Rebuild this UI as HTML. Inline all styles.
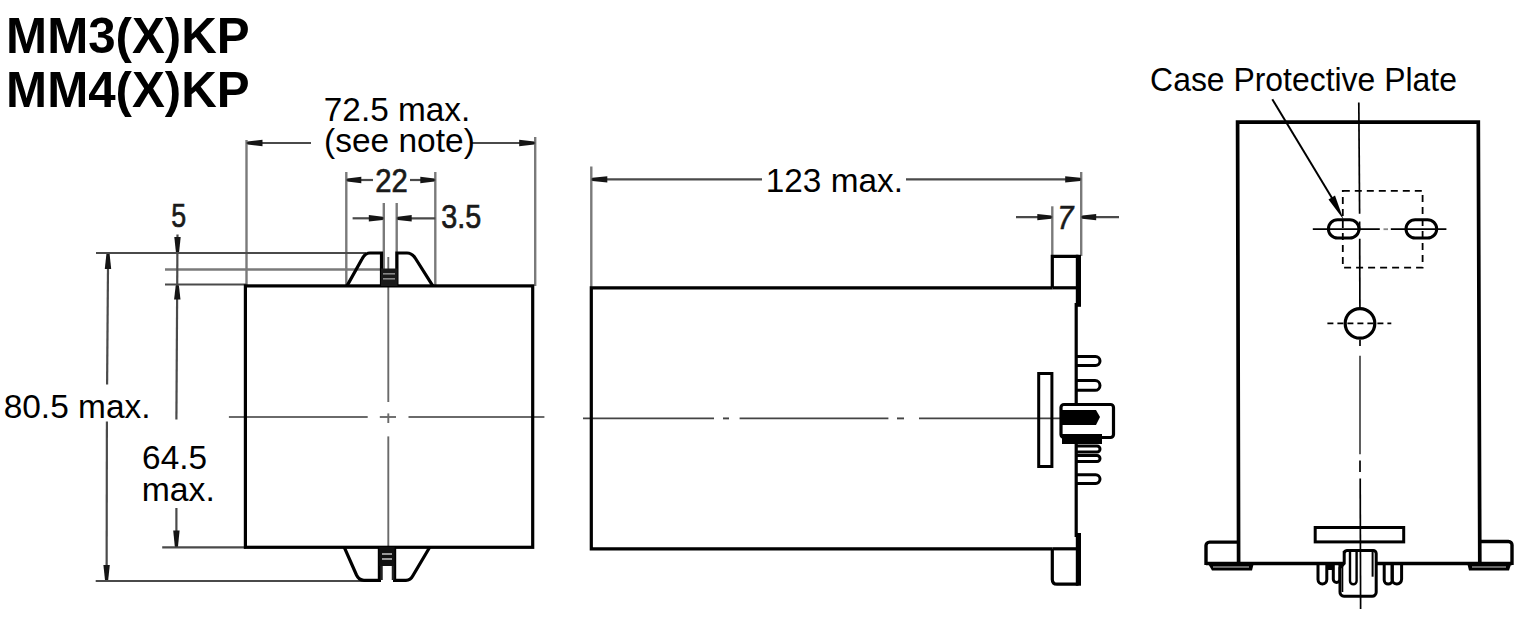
<!DOCTYPE html>
<html><head><meta charset="utf-8">
<style>
html,body{margin:0;padding:0;background:#fff;width:1525px;height:619px;overflow:hidden;}
svg{display:block;}
text{font-family:"Liberation Sans",sans-serif;}
</style></head><body>
<svg width="1525" height="619" viewBox="0 0 1525 619">
<g fill="none" stroke-linecap="butt">
<line x1="246.5" y1="140" x2="246.5" y2="286" stroke="#7a7a7a" stroke-width="2.4"/>
<line x1="535.2" y1="137" x2="535.2" y2="286" stroke="#7a7a7a" stroke-width="2.4"/>
<line x1="346.3" y1="172" x2="346.3" y2="286" stroke="#7a7a7a" stroke-width="2.4"/>
<line x1="435.3" y1="172" x2="435.3" y2="286" stroke="#7a7a7a" stroke-width="2.4"/>
<line x1="383.8" y1="203" x2="383.8" y2="286" stroke="#7a7a7a" stroke-width="2.4"/>
<line x1="396.7" y1="203" x2="396.7" y2="286" stroke="#7a7a7a" stroke-width="2.4"/>
<line x1="246.5" y1="143" x2="311" y2="143" stroke="#4a4a4a" stroke-width="2.2"/>
<line x1="472" y1="143" x2="535.2" y2="143" stroke="#4a4a4a" stroke-width="2.2"/>
<polygon points="247.5,141.4 262.5,139.8 262.5,146.2 247.5,144.6" fill="#151515"/>
<polygon points="534.2,141.4 519.2,139.8 519.2,146.2 534.2,144.6" fill="#151515"/>
<line x1="346.3" y1="180" x2="373" y2="180" stroke="#4a4a4a" stroke-width="2.2"/>
<line x1="410" y1="180" x2="435.3" y2="180" stroke="#4a4a4a" stroke-width="2.2"/>
<polygon points="347.3,178.4 361.3,176.8 361.3,183.2 347.3,181.6" fill="#151515"/>
<polygon points="434.3,178.4 420.3,176.8 420.3,183.2 434.3,181.6" fill="#151515"/>
<line x1="352.6" y1="218.3" x2="383.8" y2="218.3" stroke="#4a4a4a" stroke-width="2.2"/>
<line x1="396.7" y1="218.3" x2="435.3" y2="218.3" stroke="#4a4a4a" stroke-width="2.2"/>
<polygon points="382.8,216.70000000000002 368.8,215.10000000000002 368.8,221.5 382.8,219.9" fill="#151515"/>
<polygon points="397.7,216.70000000000002 411.7,215.10000000000002 411.7,221.5 397.7,219.9" fill="#151515"/>
<line x1="96" y1="253" x2="366" y2="253" stroke="#4a4a4a" stroke-width="2.2"/>
<line x1="165" y1="269.5" x2="382" y2="269.5" stroke="#7a7a7a" stroke-width="2.4"/>
<line x1="165" y1="284.5" x2="246.5" y2="284.5" stroke="#4a4a4a" stroke-width="2.2"/>
<line x1="95.7" y1="581" x2="380" y2="581" stroke="#4a4a4a" stroke-width="2.2"/>
<line x1="162.2" y1="547.3" x2="246" y2="547.3" stroke="#4a4a4a" stroke-width="2.2"/>
<line x1="108.1" y1="253" x2="107.1" y2="384.6" stroke="#4a4a4a" stroke-width="2.2"/>
<line x1="106.9" y1="421.6" x2="106.6" y2="581" stroke="#4a4a4a" stroke-width="2.2"/>
<polygon points="106.4,254 104.8,269 111.2,269 109.6,254" fill="#151515"/>
<polygon points="105.0,580 103.39999999999999,565 109.8,565 108.19999999999999,580" fill="#151515"/>
<line x1="177.5" y1="234.5" x2="176.4" y2="419.5" stroke="#4a4a4a" stroke-width="2.2"/>
<line x1="176.4" y1="508" x2="176.4" y2="547.3" stroke="#4a4a4a" stroke-width="2.2"/>
<polygon points="175.9,252 174.3,237 180.7,237 179.1,252" fill="#151515"/>
<polygon points="175.70000000000002,285.5 174.10000000000002,299.5 180.5,299.5 178.9,285.5" fill="#151515"/>
<polygon points="174.8,546.5 173.20000000000002,530.5 179.6,530.5 178.0,546.5" fill="#151515"/>
<line x1="388.3" y1="257" x2="388.3" y2="402" stroke="#6a6a6a" stroke-width="1.9"/>
<line x1="388.3" y1="413.4" x2="388.3" y2="423" stroke="#6a6a6a" stroke-width="1.9"/>
<line x1="388.3" y1="436.4" x2="388.3" y2="547" stroke="#6a6a6a" stroke-width="1.9"/>
<line x1="228.9" y1="417" x2="367.7" y2="417" stroke="#6a6a6a" stroke-width="1.9"/>
<line x1="379.8" y1="417" x2="396" y2="417" stroke="#6a6a6a" stroke-width="1.9"/>
<line x1="408.5" y1="417" x2="544.4" y2="417" stroke="#6a6a6a" stroke-width="1.9"/>
<rect x="245.4" y="285.9" width="287.3" height="261.4" stroke="#000" stroke-width="3.2"/>
<path d="M347,285.9 L362,259 Q365,253 370,253 L381.5,253 V285.9" stroke="#000" stroke-width="3.2"/>
<path d="M396.9,285.9 V253 L407,253 Q412,253 415.5,258.5 L432.8,285.9" stroke="#000" stroke-width="3.2"/>
<rect x="381" y="268.5" width="16.5" height="17.5" fill="#1a1a1a"/>
<rect x="383" y="273" width="12" height="1.6" fill="#888"/>
<rect x="383" y="278" width="12" height="1.6" fill="#888"/>
<path d="M344.3,547.3 L356.5,575 Q359,580.3 364,580.3 L379.4,580.3 V547.3" stroke="#000" stroke-width="3.2"/>
<path d="M394.6,547.3 V580.3 L406,580.3 Q410.5,580.3 413,575.5 L429.7,547.3" stroke="#000" stroke-width="3.2"/>
<rect x="379.4" y="547" width="15.2" height="19" fill="#111"/>
<rect x="382" y="553" width="10" height="2" fill="#999"/>
<rect x="382" y="558" width="10" height="2" fill="#999"/>
<line x1="381.5" y1="566" x2="381.5" y2="580" stroke="#222" stroke-width="2.5"/>
<line x1="393" y1="566" x2="393" y2="580" stroke="#222" stroke-width="2.5"/>
<line x1="591.3" y1="166.5" x2="591.3" y2="288" stroke="#7a7a7a" stroke-width="2.4"/>
<line x1="1081.2" y1="172" x2="1081.2" y2="256" stroke="#7a7a7a" stroke-width="2.4"/>
<line x1="591.3" y1="179.4" x2="762" y2="179.4" stroke="#4a4a4a" stroke-width="2.2"/>
<line x1="906" y1="179.4" x2="1081.2" y2="179.4" stroke="#4a4a4a" stroke-width="2.2"/>
<polygon points="592.3,177.8 607.3,176.20000000000002 607.3,182.6 592.3,181.0" fill="#151515"/>
<polygon points="1080.2,177.8 1065.2,176.20000000000002 1065.2,182.6 1080.2,181.0" fill="#151515"/>
<line x1="1052.3" y1="206.3" x2="1052.3" y2="256" stroke="#7a7a7a" stroke-width="2.4"/>
<line x1="1016" y1="217.1" x2="1052.3" y2="217.1" stroke="#4a4a4a" stroke-width="2.2"/>
<line x1="1081.2" y1="217.1" x2="1119" y2="217.1" stroke="#4a4a4a" stroke-width="2.2"/>
<polygon points="1051.3,215.5 1037.3,213.9 1037.3,220.29999999999998 1051.3,218.7" fill="#151515"/>
<polygon points="1082.2,215.5 1096.2,213.9 1096.2,220.29999999999998 1082.2,218.7" fill="#151515"/>
<line x1="583" y1="418.4" x2="714" y2="418.4" stroke="#444" stroke-width="1.9"/>
<line x1="723" y1="418.4" x2="729" y2="418.4" stroke="#444" stroke-width="1.9"/>
<line x1="739.6" y1="418.4" x2="888.4" y2="418.4" stroke="#444" stroke-width="1.9"/>
<line x1="897" y1="418.4" x2="904" y2="418.4" stroke="#444" stroke-width="1.9"/>
<line x1="919" y1="418.4" x2="1060" y2="418.4" stroke="#444" stroke-width="1.9"/>
<polyline points="1052.5,287.8 591.3,287.8 591.3,548.8 1052.5,548.8" stroke="#000" stroke-width="3.2"/>
<polyline points="1052.3,287.8 1052.3,256.3 1078.5,256.3" stroke="#000" stroke-width="3.2"/>
<path d="M1078.5,584.2 H1057 Q1052.3,584.2 1052.3,579.5 V548.8" stroke="#000" stroke-width="3.2"/>
<rect x="1075.8" y="254.8" width="5.2" height="52" fill="#000"/>
<rect x="1075.8" y="533" width="5.2" height="52.7" fill="#000"/>
<polyline points="1052.5,287.8 1078,287.8" stroke="#000" stroke-width="3.2"/>
<polyline points="1052.5,548.8 1078,548.8" stroke="#000" stroke-width="3.2"/>
<line x1="1076.2" y1="303" x2="1076.2" y2="403.5" stroke="#000" stroke-width="3.2"/>
<line x1="1076.2" y1="438" x2="1076.2" y2="537" stroke="#000" stroke-width="3.2"/>
<rect x="1038.7" y="373.5" width="13.2" height="93" stroke="#000" stroke-width="3"/>
<rect x="1061" y="404.5" width="52.5" height="33" rx="3" stroke="#000" stroke-width="3.2"/>
<polygon points="1062,410 1096,410 1100,417 1096,425 1062,425" fill="#000"/>
<rect x="1062" y="434" width="40" height="10" fill="#000"/>
<path d="M1076,356.5 H1095.5 a4.5,4.5 0 0 1 0,9 H1076" stroke="#000" stroke-width="3"/>
<path d="M1076,380.5 H1095.1 a4.9,4.9 0 0 1 0,9.8 H1076" stroke="#000" stroke-width="3"/>
<path d="M1076,446 H1097.0 a3.0,3.0 0 0 1 0,6 H1076" stroke="#000" stroke-width="3"/>
<path d="M1076,455.5 H1097.0 a3.0,3.0 0 0 1 0,6 H1076" stroke="#000" stroke-width="3"/>
<path d="M1076,474.8 H1095.7 a4.3,4.3 0 0 1 0,8.6 H1076" stroke="#000" stroke-width="3"/>
<polyline points="1238.6,563.5 1237.6,122.2 1478.3,122.2 1479.8,563.5" stroke="#000" stroke-width="3.7"/>
<line x1="1206" y1="563.5" x2="1512" y2="563.5" stroke="#000" stroke-width="3.4"/>
<path d="M1238.6,542.1 H1209.5 a3.5,3.5 0 0 0 -3.5,3.5 V565" stroke="#000" stroke-width="3.4"/>
<path d="M1479.8,541.5 H1508.5 a3.5,3.5 0 0 1 3.5,3.5 V565" stroke="#000" stroke-width="3.4"/>
<polygon points="1208.5,564.5 1253.5,564.5 1252,570.5 1212,570.5" fill="#000"/>
<line x1="1213" y1="567" x2="1249" y2="567" stroke="#ccc" stroke-width="1"/>
<polygon points="1467.5,564.5 1511,564.5 1509,570.5 1469,570.5" fill="#000"/>
<line x1="1472" y1="567" x2="1506" y2="567" stroke="#ccc" stroke-width="1"/>
<line x1="1358.8" y1="102.5" x2="1359.6" y2="213.7" stroke="#000" stroke-width="1.7"/>
<line x1="1359.6" y1="221.5" x2="1359.6" y2="230.5" stroke="#000" stroke-width="1.7"/>
<line x1="1359.7" y1="238.8" x2="1359.9" y2="309" stroke="#000" stroke-width="1.7"/>
<line x1="1360" y1="339.7" x2="1360" y2="346" stroke="#000" stroke-width="1.7"/>
<line x1="1360" y1="355.8" x2="1360" y2="454.2" stroke="#444" stroke-width="1.7"/>
<line x1="1360" y1="460.6" x2="1360" y2="472" stroke="#000" stroke-width="1.7"/>
<rect x="1315.2" y="527.5" width="88.5" height="14.4" stroke="#000" stroke-width="3"/>
<path d="M1318,565 V579.6 a4.399999999999977,4.399999999999977 0 0 0 8.799999999999955,0 V565" stroke="#000" stroke-width="3"/>
<path d="M1333.3,565 V579.1999999999999 a3.300000000000068,3.300000000000068 0 0 0 6.600000000000136,0 V565" stroke="#000" stroke-width="3"/>
<path d="M1384.2,565 V580.0 a4.0,4.0 0 0 0 8.0,0 V565" stroke="#000" stroke-width="3"/>
<path d="M1392.2,565 V579.3000000000001 a4.699999999999932,4.699999999999932 0 0 0 9.399999999999864,0 V565" stroke="#000" stroke-width="3"/>
<rect x="1326" y="564" width="7.5" height="6" fill="#000"/>
<path d="M1344.2,551 V563.5 L1340,568 V592 a4,4 0 0 0 4,4.3 H1372 a4,4 0 0 0 4.2,-4 V553.5 a3,3 0 0 0 -3,-3 H1347 a3,3 0 0 0 -2.8,3 Z" stroke="#000" stroke-width="3" fill="#fff"/>
<path d="M1350,552 V581 a3.3,3.3 0 0 0 6.6,0 V552" stroke="#000" stroke-width="2.4"/>
<line x1="1372.6" y1="552" x2="1372.6" y2="576.7" stroke="#000" stroke-width="2"/>
<line x1="1342.5" y1="566" x2="1342.5" y2="592" stroke="#000" stroke-width="1.6"/>
<line x1="1360.2" y1="478.4" x2="1360.6" y2="609" stroke="#000" stroke-width="1.7"/>
<circle cx="1360" cy="323.4" r="14.8" stroke="#000" stroke-width="3.2"/>
<line x1="1327.4" y1="323.4" x2="1391.3" y2="323.4" stroke="#000" stroke-width="1.6" stroke-dasharray="6,4"/>
<rect x="1328.4" y="219.7" width="30.6" height="18.4" rx="9.2" stroke="#000" stroke-width="3"/>
<rect x="1406" y="219.7" width="30.7" height="18.4" rx="9.2" stroke="#000" stroke-width="3"/>
<line x1="1312.8" y1="229.2" x2="1379.8" y2="229.2" stroke="#000" stroke-width="1.8"/>
<line x1="1383.5" y1="229.2" x2="1388" y2="229.2" stroke="#888" stroke-width="1.8"/>
<line x1="1390.8" y1="229.2" x2="1446.4" y2="229.2" stroke="#000" stroke-width="1.8"/>
<rect x="1342.8" y="190.9" width="79.8" height="76.7" stroke="#000" stroke-width="1.8" stroke-dasharray="7,5"/>
<line x1="1272.3" y1="99.2" x2="1335" y2="203" stroke="#000" stroke-width="2"/>
<polygon points="1343.5,219.5 1328.5,199.5 1335,195.5" fill="#000"/>
</g>
<text x="6.1" y="53.0" font-size="49.5" font-weight="bold" textLength="243.6" lengthAdjust="spacingAndGlyphs" fill="#000">MM3(X)KP</text>
<text x="6.1" y="107.4" font-size="49.5" font-weight="bold" textLength="243.6" lengthAdjust="spacingAndGlyphs" fill="#000">MM4(X)KP</text>
<text x="323.8" y="120.8" font-size="33.5" font-weight="normal" textLength="146.5" lengthAdjust="spacingAndGlyphs" fill="#000">72.5 max.</text>
<text x="324.1" y="152.2" font-size="33.5" font-weight="normal" textLength="150.7" lengthAdjust="spacingAndGlyphs" fill="#000">(see note)</text>
<text x="3.7" y="417.8" font-size="33.5" font-weight="normal" textLength="146.8" lengthAdjust="spacingAndGlyphs" fill="#000">80.5 max.</text>
<text x="142.1" y="468.8" font-size="33.5" font-weight="normal" textLength="64.9" lengthAdjust="spacingAndGlyphs" fill="#000">64.5</text>
<text x="141.7" y="501.1" font-size="33.5" font-weight="normal" textLength="73.1" lengthAdjust="spacingAndGlyphs" fill="#000">max.</text>
<text x="765.8" y="192.0" font-size="33.5" font-weight="normal" textLength="137.1" lengthAdjust="spacingAndGlyphs" fill="#000">123 max.</text>
<text x="1150.1" y="90.6" font-size="32.5" font-weight="normal" textLength="306.8" lengthAdjust="spacingAndGlyphs" fill="#000">Case Protective Plate</text>
<text x="375.3" y="191.6" font-size="33" font-weight="normal" textLength="32.5" lengthAdjust="spacingAndGlyphs" fill="#1a1a1a" stroke="#1a1a1a" stroke-width="0.7">22</text>
<text x="171.3" y="226.5" font-size="33" font-weight="normal" textLength="14.899999999999977" lengthAdjust="spacingAndGlyphs" fill="#1a1a1a" stroke="#1a1a1a" stroke-width="0.7">5</text>
<text x="441.2" y="228.4" font-size="33" font-weight="normal" textLength="40.0" lengthAdjust="spacingAndGlyphs" fill="#1a1a1a" stroke="#1a1a1a" stroke-width="0.7">3.5</text>
<text x="1057.2" y="228.6" font-size="33" font-style="italic" textLength="16.2" lengthAdjust="spacingAndGlyphs" fill="#1a1a1a" stroke="#1a1a1a" stroke-width="0.6">7</text>
</svg>
</body></html>
